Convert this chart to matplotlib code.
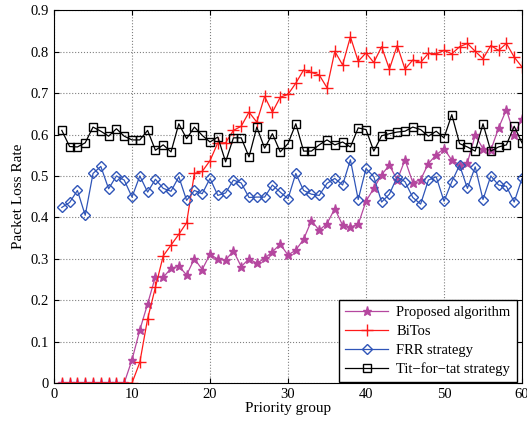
import numpy as np
import matplotlib
matplotlib.use("Agg")
import matplotlib.pyplot as plt

plt.rcParams['font.family'] = ['Liberation Serif', 'DejaVu Serif']
plt.rcParams['mathtext.fontset'] = 'stix'

groups = list(range(1, 61))

proposed = [0, 0, 0, 0, 0, 0, 0, 0, 0, 0.056,
            0.128, 0.191, 0.257, 0.255, 0.277, 0.282, 0.261, 0.300, 0.274, 0.311,
            0.299, 0.297, 0.319, 0.281, 0.300, 0.289, 0.301, 0.317, 0.335, 0.309,
            0.321, 0.347, 0.392, 0.369, 0.385, 0.421, 0.381, 0.377, 0.383, 0.439,
            0.470, 0.503, 0.526, 0.490, 0.539, 0.484, 0.491, 0.530, 0.551, 0.566,
            0.538, 0.527, 0.532, 0.598, 0.566, 0.562, 0.616, 0.660, 0.600, 0.638]

bitos = [0, 0, 0, 0, 0, 0, 0, 0, 0, 0,
         0.050, 0.155, 0.231, 0.307, 0.333, 0.359, 0.387, 0.506, 0.511, 0.537,
         0.580, 0.580, 0.610, 0.620, 0.654, 0.630, 0.692, 0.654, 0.690, 0.697,
         0.724, 0.756, 0.750, 0.744, 0.713, 0.801, 0.768, 0.836, 0.777, 0.797,
         0.774, 0.812, 0.758, 0.815, 0.758, 0.780, 0.774, 0.796, 0.795, 0.803,
         0.795, 0.812, 0.820, 0.801, 0.783, 0.815, 0.803, 0.820, 0.787, 0.763]

frr = [0.424, 0.436, 0.465, 0.405, 0.506, 0.523, 0.469, 0.500, 0.490, 0.449,
       0.500, 0.461, 0.492, 0.470, 0.463, 0.498, 0.441, 0.465, 0.457, 0.494,
       0.453, 0.459, 0.490, 0.483, 0.448, 0.449, 0.449, 0.478, 0.461, 0.445,
       0.506, 0.465, 0.456, 0.453, 0.482, 0.494, 0.478, 0.539, 0.443, 0.518,
       0.498, 0.437, 0.456, 0.498, 0.486, 0.448, 0.432, 0.490, 0.498, 0.439,
       0.486, 0.526, 0.470, 0.522, 0.443, 0.500, 0.478, 0.475, 0.437, 0.494]

tft = [0.610, 0.571, 0.570, 0.580, 0.618, 0.608, 0.596, 0.614, 0.596, 0.587,
       0.587, 0.610, 0.562, 0.575, 0.558, 0.626, 0.590, 0.618, 0.598, 0.582,
       0.594, 0.534, 0.592, 0.592, 0.546, 0.618, 0.567, 0.602, 0.558, 0.578,
       0.626, 0.560, 0.560, 0.575, 0.587, 0.575, 0.582, 0.570, 0.616, 0.612,
       0.560, 0.597, 0.602, 0.606, 0.608, 0.618, 0.612, 0.596, 0.608, 0.592,
       0.648, 0.578, 0.570, 0.560, 0.626, 0.560, 0.570, 0.575, 0.620, 0.580]

fig = plt.figure(figsize=(5.27, 4.24), dpi=100)
ax = fig.add_axes([0.1025, 0.0967, 0.888, 0.879])

ax.plot(groups, proposed, color="#b5479f", marker="*", markersize=6.5, linewidth=0.9,
        label="Proposed algorithm")
ax.plot(groups, bitos, color="#ff1a1a", marker="+", markersize=8, markeredgewidth=1.0,
        linewidth=0.9, label="BiTos")
ax.plot(groups, frr, color="#2f55b8", marker="D", markersize=5.5, markerfacecolor="none",
        linewidth=0.9, label="FRR strategy")
ax.plot(groups, tft, color="black", marker="s", markersize=5.5, markerfacecolor="none",
        linewidth=0.9, label="Tit\u2212for\u2212tat strategy")

ax.set_xlim(0, 60)
ax.set_ylim(0, 0.9)
ax.set_xticks(np.arange(0, 61, 10))
ax.set_yticks(np.arange(0, 0.91, 0.1))
ax.set_yticklabels(["0", "0.1", "0.2", "0.3", "0.4", "0.5", "0.6", "0.7", "0.8", "0.9"])
ax.tick_params(direction="in", top=True, right=True, labelsize=10.5)
ax.grid(True, linestyle=":", color="#808080", linewidth=0.8)
ax.set_xlabel("Priority group", fontsize=11, labelpad=1)
ax.set_ylabel("Packet Loss Rate", fontsize=11, labelpad=4)

leg = ax.legend(loc="upper left", bbox_to_anchor=(0.643, 0.292),
                bbox_transform=fig.transFigure, fancybox=False, framealpha=1,
                edgecolor="black", fontsize=10.5, borderaxespad=0, handlelength=3.0,
                handletextpad=0.55, labelspacing=0.38, borderpad=0.4)
leg.get_frame().set_linewidth(1.0)

fig.savefig("out.png", dpi=100)
